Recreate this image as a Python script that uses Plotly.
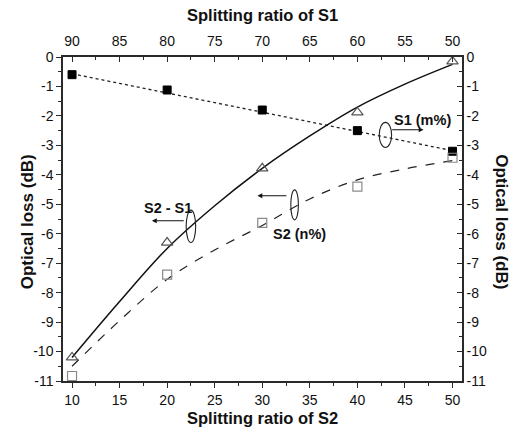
import plotly.graph_objects as go

# ---- data ----
s2_ratio = [10, 20, 30, 40, 50]                      # splitting ratio of S2 (bottom axis)
s1_loss = [-0.60, -1.12, -1.80, -2.50, -3.20]         # S1 (m%) filled squares
s2_loss = [-10.83, -7.39, -5.63, -4.40, -3.42]        # S2 (n%) open squares
diff_loss = [-10.20, -6.30, -3.78, -1.88, -0.15]      # S2 - S1 open triangles

fit_x = [10, 15, 20, 25, 30, 35, 40, 45, 50]
fit_diff = [-10.20, -8.30, -6.50, -5.05, -3.78, -2.68, -1.70, -0.92, -0.25]
fit_s2 = [-10.50, -8.95, -7.55, -6.55, -5.72, -4.82, -4.17, -3.80, -3.52]
fit_s1_x = [10, 50]
fit_s1 = [-0.57, -3.18]

top_ticks = [90, 85, 80, 75, 70, 65, 60, 55, 50]
y_ticks = [0, -1, -2, -3, -4, -5, -6, -7, -8, -9, -10, -11]
y_ticktext = ["0", "-1", "-2", "-3", "-4", "-5", "-6", "-7", "-8", "-9", "-10", "-11"]

FONT = "Liberation Sans, Arial, sans-serif"
AX = "#2a2a2a"

fig = go.Figure()

# fitted curves
fig.add_trace(go.Scatter(x=fit_s1_x, y=fit_s1, mode="lines",
                         line=dict(color="#222", width=1.3, dash="dot"), hoverinfo="skip"))
fig.add_trace(go.Scatter(x=fit_x, y=fit_s2, mode="lines", line_shape="spline",
                         line=dict(color="#222", width=1.2, dash="dash"), hoverinfo="skip"))
fig.add_trace(go.Scatter(x=fit_x, y=fit_diff, mode="lines", line_shape="spline",
                         line=dict(color="#111", width=1.5), hoverinfo="skip"))

# markers
fig.add_trace(go.Scatter(x=s2_ratio, y=s1_loss, mode="markers",
                         marker=dict(symbol="square", size=8, color="#000",
                                     line=dict(color="#000", width=1))))
fig.add_trace(go.Scatter(x=s2_ratio, y=s2_loss, mode="markers",
                         marker=dict(symbol="square-open", size=9, color="#8a8a8a",
                                     line=dict(width=1.2))))
fig.add_trace(go.Scatter(x=s2_ratio, y=diff_loss, mode="markers",
                         marker=dict(symbol="triangle-up-open", size=10, color="#555",
                                     line=dict(width=1.2))))

# invisible trace to activate the top/right axes
fig.add_trace(go.Scatter(x=[top_ticks[0]], y=[0], xaxis="x2", yaxis="y2",
                         mode="markers", marker=dict(opacity=0), hoverinfo="skip"))

tickfont = dict(family=FONT, size=14, color="#111")

fig.update_layout(
    width=518, height=435,
    margin=dict(l=63, r=56, t=57, b=54),
    paper_bgcolor="white", plot_bgcolor="white",
    showlegend=False,
    font=dict(family=FONT, color="#111"),
    xaxis=dict(range=[9.05, 51.0], tickmode="array", tickvals=[10, 15, 20, 25, 30, 35, 40, 45, 50],
               ticks="outside", ticklen=5, tickwidth=1.2, tickcolor=AX,
               minor=dict(ticks="outside", ticklen=3, dtick=2.5, tick0=10, tickcolor=AX, tickwidth=1.2),
               showline=True, linecolor=AX, linewidth=1.5, showgrid=False, zeroline=False,
               tickfont=tickfont),
    xaxis2=dict(range=[100 - 9.05, 100 - 51.0], overlaying="x", side="top", anchor="y",
                tickmode="array", tickvals=top_ticks,
                ticks="inside", ticklen=5, tickwidth=1.2, tickcolor=AX,
                minor=dict(ticks="inside", ticklen=3, dtick=2.5, tick0=50, tickcolor=AX, tickwidth=1.2),
                showline=True, linecolor=AX, linewidth=1.5, showgrid=False, zeroline=False,
                ticklabelstandoff=4, tickfont=tickfont),
    yaxis=dict(range=[-11, 0], tickmode="array", tickvals=y_ticks, ticktext=y_ticktext,
               ticks="outside", ticklen=5, tickwidth=1.2, tickcolor=AX,
               minor=dict(ticks="outside", ticklen=3, dtick=0.5, tick0=0, tickcolor=AX, tickwidth=1.2),
               showline=True, linecolor=AX, linewidth=1.5, showgrid=False, zeroline=False,
               tickfont=tickfont),
    yaxis2=dict(range=[-11, 0], overlaying="y", side="right", anchor="x",
                tickmode="array", tickvals=y_ticks, ticktext=y_ticktext,
                ticks="inside", ticklen=5, tickwidth=1.2, tickcolor=AX,
                minor=dict(ticks="inside", ticklen=3, dtick=0.5, tick0=0, tickcolor=AX, tickwidth=1.2),
                showline=True, linecolor=AX, linewidth=1.5, showgrid=False, zeroline=False,
                tickfont=tickfont),
)

titlefont = dict(family=FONT, size=17, color="#111")
ann = [
    dict(text="<b>Splitting ratio of S1</b>", xref="paper", yref="paper", x=0.5, y=1.13,
         showarrow=False, font=dict(family=FONT, size=16.5, color="#111"), xanchor="center", yanchor="middle"),
    dict(text="<b>Splitting ratio of S2</b>", xref="paper", yref="paper", x=0.5, y=-0.114,
         showarrow=False, font=dict(family=FONT, size=16.5, color="#111"), xanchor="center", yanchor="middle"),
    dict(text="<b>Optical loss (dB)</b>", xref="paper", yref="paper", x=-0.09, y=0.49,
         showarrow=False, textangle=-90, font=titlefont, xanchor="center", yanchor="middle"),
    dict(text="<b>Optical loss (dB)</b>", xref="paper", yref="paper", x=1.1, y=0.49,
         showarrow=False, textangle=90, font=titlefont, xanchor="center", yanchor="middle"),
    # curve labels
    dict(text="<b>S2 - S1</b>", x=20.1, y=-5.12, showarrow=False,
         font=dict(family=FONT, size=14.5, color="#111")),
    dict(text="<b>S2 (n%)</b>", x=33.9, y=-6.0, showarrow=False,
         font=dict(family=FONT, size=14.5, color="#111")),
    dict(text="<b>S1 (m%)</b>", x=46.8, y=-2.14, showarrow=False,
         font=dict(family=FONT, size=14.5, color="#111")),
    # arrows
    dict(x=18.4, y=-5.56, ax=21.9, ay=-5.56, axref="x", ayref="y", text="", showarrow=True,
         arrowhead=2, arrowsize=0.8, arrowwidth=1.2, arrowcolor="#111"),
    dict(x=29.5, y=-4.71, ax=32.7, ay=-4.71, axref="x", ayref="y", text="", showarrow=True,
         arrowhead=2, arrowsize=0.8, arrowwidth=1.2, arrowcolor="#111"),
    dict(x=46.95, y=-2.47, ax=43.5, ay=-2.47, axref="x", ayref="y", text="", showarrow=True,
         arrowhead=2, arrowsize=0.8, arrowwidth=1.2, arrowcolor="#111"),
]
fig.update_layout(annotations=ann)

# loops around the curves
loops = [
    (22.0, 23.0, -6.30, -5.20),
    (33.0, 33.8, -5.53, -4.51),
    (42.3, 43.6, -3.07, -2.22),
]
for x0, x1, y0, y1 in loops:
    fig.add_shape(type="circle", xref="x", yref="y", x0=x0, x1=x1, y0=y0, y1=y1,
                  line=dict(color="#222", width=1.1))

fig.write_html("out.html")
